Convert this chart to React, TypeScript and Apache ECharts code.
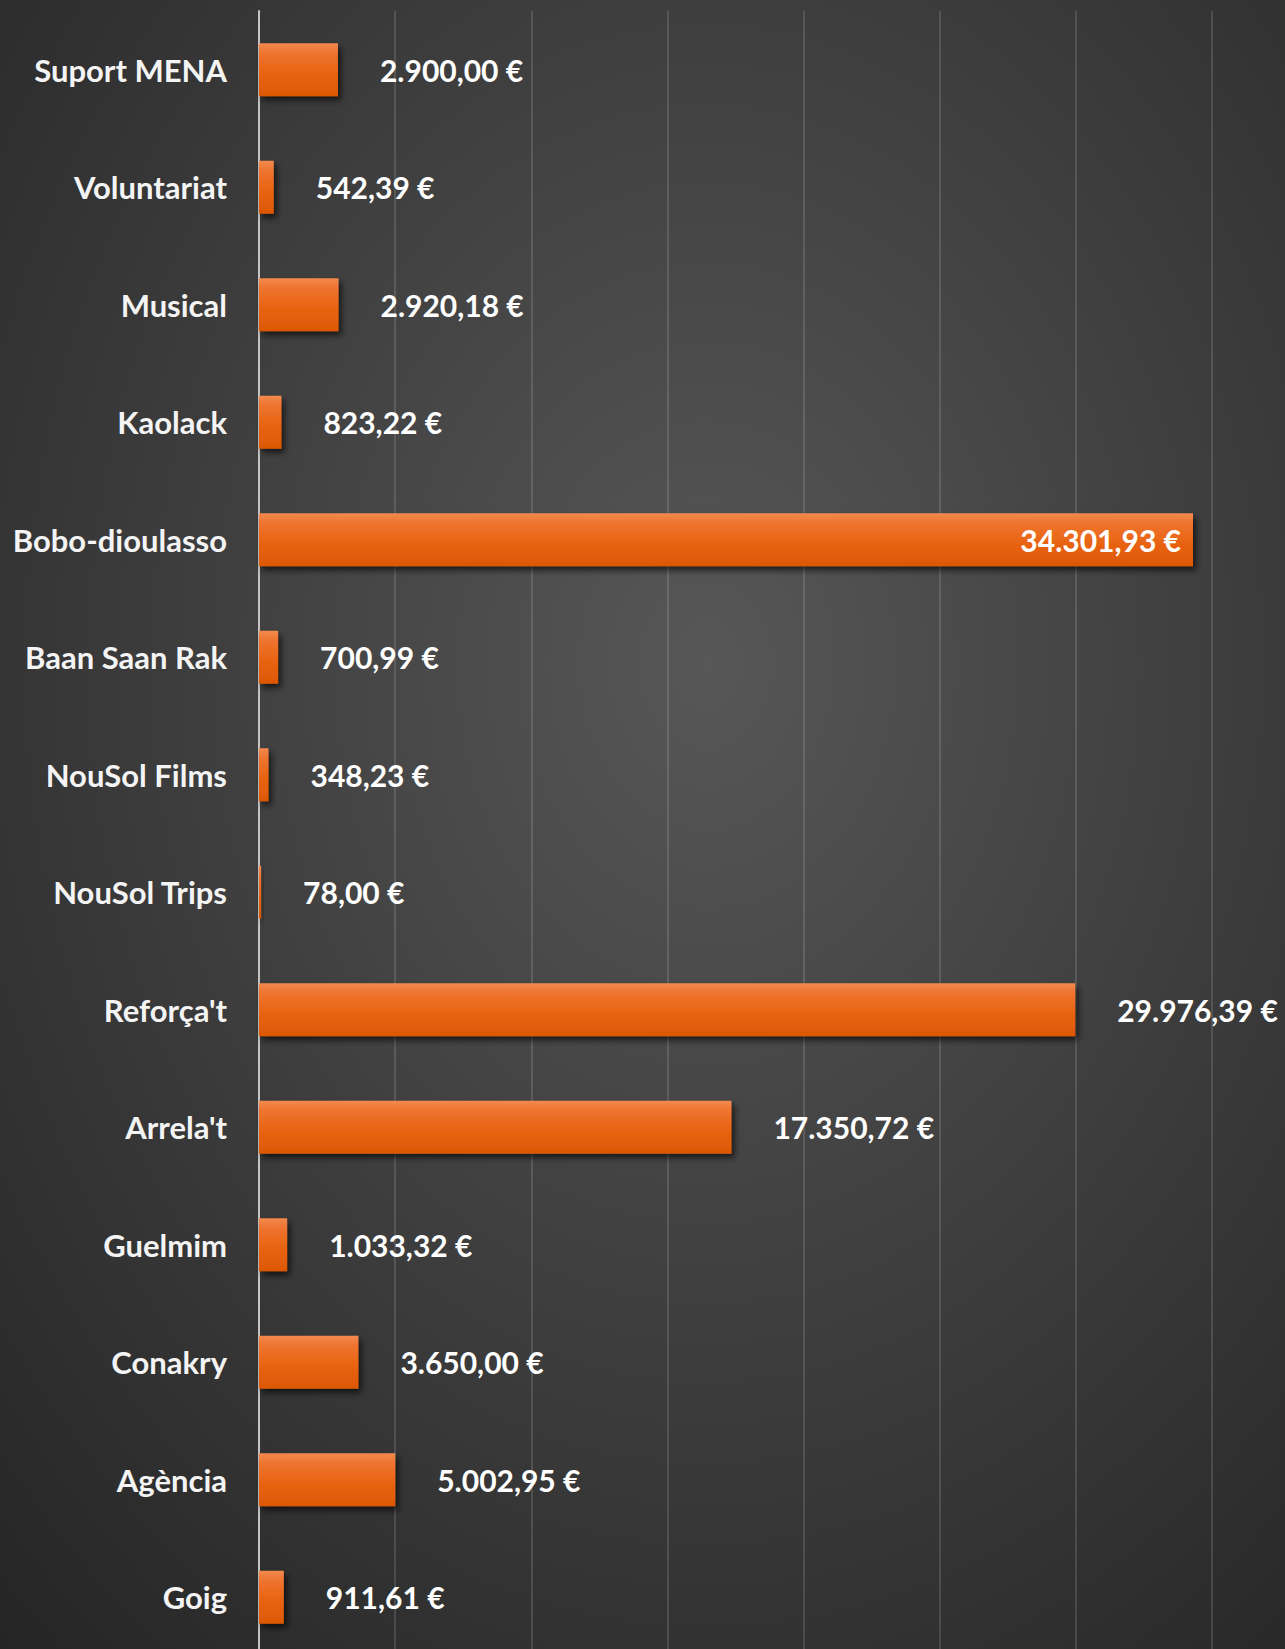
import React, { useEffect, useRef } from "react";
import * as echarts from "echarts";

const categories = [
  "Suport MENA",
  "Voluntariat",
  "Musical",
  "Kaolack",
  "Bobo-dioulasso",
  "Baan Saan Rak",
  "NouSol Films",
  "NouSol Trips",
  "Reforça't",
  "Arrela't",
  "Guelmim",
  "Conakry",
  "Agència",
  "Goig",
];

const values = [
  2900.0, 542.39, 2920.18, 823.22, 34301.93, 700.99, 348.23, 78.0, 29976.39,
  17350.72, 1033.32, 3650.0, 5002.95, 911.61,
];

const insideLabels = ["Bobo-dioulasso"];

const axisMin = 0;
const axisMax = 35000;
const axisInterval = 5000;

function formatEuro(v: number): string {
  const [intPart, dec] = v.toFixed(2).split(".");
  const withDots = intPart.replace(/\B(?=(\d{3})+(?!\d))/g, ".");
  return `${withDots},${dec} €`;
}

export default function App() {
  const ref = useRef<HTMLDivElement>(null);

  useEffect(() => {
    if (!ref.current) return;
    const chart = echarts.init(ref.current, undefined, { renderer: "svg" });
    const fontFamily = "Lato, 'Open Sans', sans-serif";

    const data = categories.map((c, i) => {
      const inside = insideLabels.includes(c);
      return {
        value: values[i],
        label: inside
          ? { position: "insideRight", distance: 12 }
          : { position: "right", distance: 42 },
      };
    });

    chart.setOption({
      animation: false,
      backgroundColor: new echarts.graphic.RadialGradient(0.55, 0.4, 0.95, [
        { offset: 0, color: "#575757" },
        { offset: 0.45, color: "#3c3c3c" },
        { offset: 1, color: "#1c1c1c" },
      ]),
      grid: {
        left: 259,
        right: 73,
        top: 11,
        bottom: 4,
        containLabel: false,
      },
      xAxis: {
        type: "value",
        min: axisMin,
        max: axisMax,
        interval: axisInterval,
        axisLabel: { show: false },
        axisLine: { show: false },
        axisTick: { show: false },
        splitLine: {
          show: true,
          lineStyle: { color: "rgba(255,255,255,0.13)", width: 2 },
        },
      },
      yAxis: {
        type: "category",
        data: categories,
        inverse: true,
        axisTick: { show: false },
        axisLine: { show: true, lineStyle: { color: "#c4c4c4", width: 2 } },
        axisLabel: {
          color: "#f4f4f4",
          fontFamily,
          fontWeight: "bold",
          fontSize: 31,
          margin: 32,
        },
        splitLine: { show: false },
      },
      series: [
        {
          type: "bar",
          data,
          barWidth: 53,
          itemStyle: {
            color: new echarts.graphic.LinearGradient(0, 0, 0, 1, [
              { offset: 0, color: "#f38a4e" },
              { offset: 0.18, color: "#ee7430" },
              { offset: 0.6, color: "#e8620f" },
              { offset: 1, color: "#dc5804" },
            ]),
            shadowColor: "rgba(0,0,0,0.65)",
            shadowBlur: 6,
            shadowOffsetX: 3,
            shadowOffsetY: 4,
          },
          label: {
            show: true,
            color: "#ffffff",
            fontFamily,
            fontWeight: "bold",
            fontSize: 30,
            formatter: (p: any) => formatEuro(p.value),
          },
        },
      ],
    });

    return () => chart.dispose();
  }, []);

  return (
    <div
      style={{
        position: "absolute",
        left: 0,
        top: 0,
        width: 1285,
        height: 1649,
        overflow: "hidden",
      }}
    >
      <div ref={ref} style={{ width: 1285, height: 1660 }} />
    </div>
  );
}
